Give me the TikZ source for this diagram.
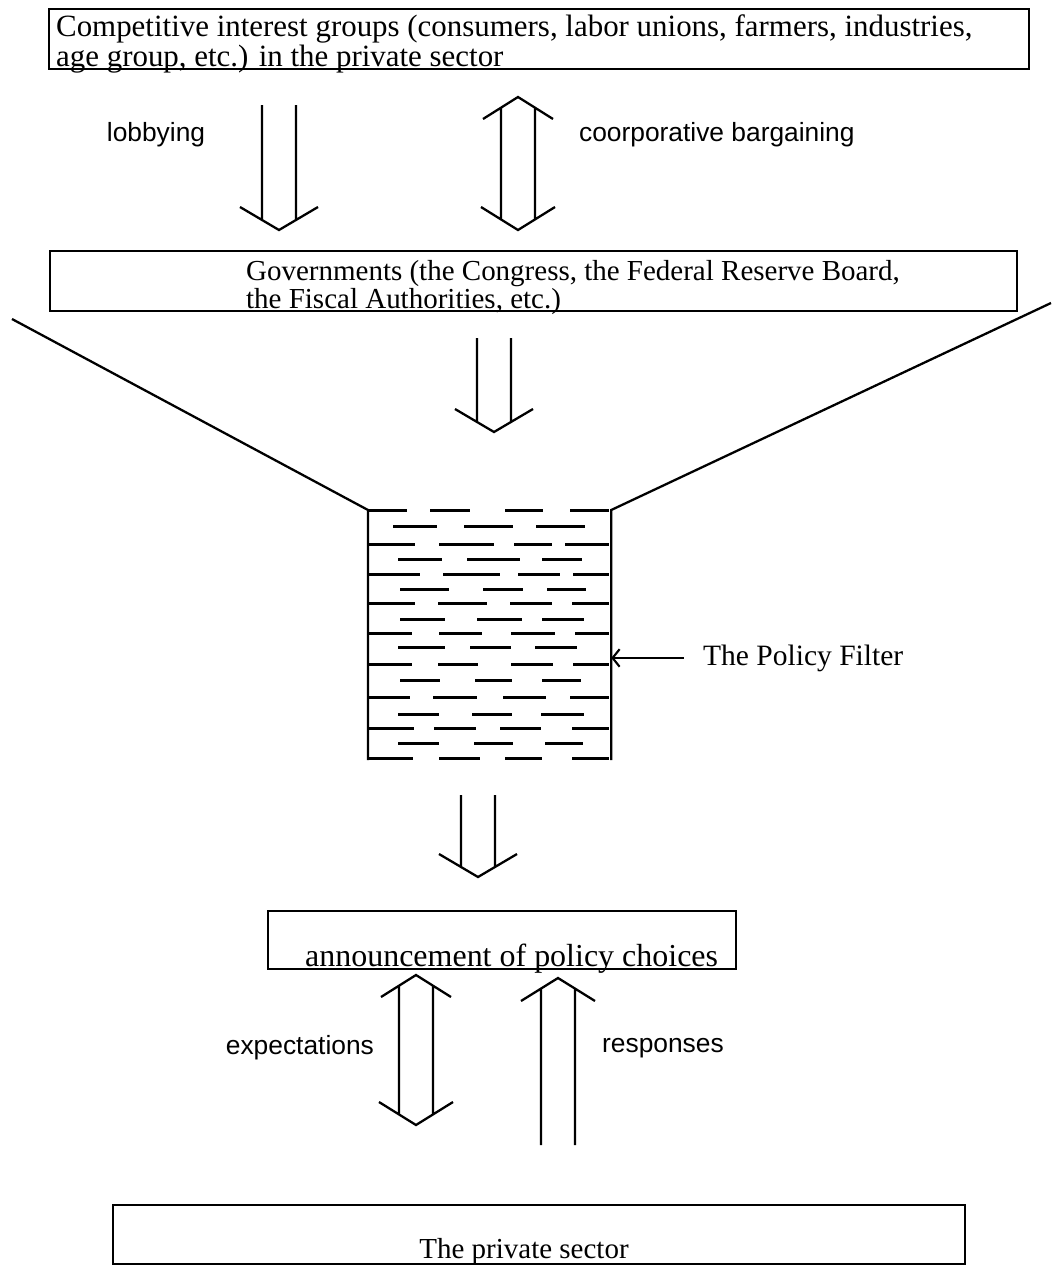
\documentclass[tikz,border=0pt]{standalone}
\usepackage{fontspec}
\setmainfont{Liberation Serif}
\setsansfont{Liberation Sans}
\usetikzlibrary{positioning,calc,arrows.meta}

\tikzset{
  frame/.style={draw, line width=1.2pt, inner sep=0pt, anchor=north west},
  boxtext/.style={align=left, inner sep=0pt, text depth=0pt, anchor=south west},
  flowlabel/.style={font=\sffamily\fontsize{15}{15}\selectfont, inner sep=0pt},
  filterdash/.style={line width=1.7pt},
  pointer/.style={line width=1.2pt, -{Straight Barb[length=4pt,width=10pt]}}
}

% hollow arrows: shafts plus open heads
\newcommand{\hollowdown}[2]{%
  \draw ($(#1)+(-17,0)$) -- ($(#2)+(-17,-10)$) ($(#1)+(17,0)$) -- ($(#2)+(17,-10)$)
        ($(#2)+(-39,-23)$) -- (#2) -- ($(#2)+(39,-23)$);}
\newcommand{\hollowup}[2]{%
  \draw ($(#1)+(-17,10)$) -- ($(#2)+(-17,0)$) ($(#1)+(17,10)$) -- ($(#2)+(17,0)$)
        ($(#1)+(-37,23)$) -- (#1) -- ($(#1)+(37,23)$);}
\newcommand{\hollowboth}[2]{%
  \draw ($(#1)+(-17,10)$) -- ($(#2)+(-17,-10)$) ($(#1)+(17,10)$) -- ($(#2)+(17,-10)$)
        ($(#1)+(-35,22)$) -- (#1) -- ($(#1)+(35,22)$)
        ($(#2)+(-37,-23)$) -- (#2) -- ($(#2)+(37,-23)$);}

\begin{document}
\begin{tikzpicture}[x=0.02cm, y=-0.02cm, line width=1.3pt]
\useasboundingbox (0,0) rectangle (1053,1268);

% boxes
\node[frame, minimum width=19.6cm, minimum height=1.2cm] (groups) at (48,8) {};
\node[boxtext, font=\fontsize{17.6}{17}\selectfont] (groupstext) at (55,68) {Competitive interest groups (consumers, labor unions, farmers, industries,\\age group, etc.) in the private sector};

\node[frame, minimum width=19.34cm, minimum height=1.2cm] (govs) at (49,250) {};
\node[boxtext, font=\fontsize{16.5}{16}\selectfont] (govstext) at (245,310) {Governments (the Congress, the Federal Reserve Board,\\the Fiscal Authorities, etc.)};

\node[frame, minimum width=9.36cm, minimum height=1.16cm] (announce) at (267,910) {};
\node[boxtext, font=\fontsize{18.2}{18}\selectfont] (announcetext) at (304,968) {announcement of policy choices};

\node[frame, minimum width=17.04cm, minimum height=1.18cm] (private) at (112,1204) {};
\node[boxtext, font=\fontsize{16.5}{16}\selectfont, anchor=south] (privatetext) at (524,1260) {The private sector};

% arrows between the boxes
\coordinate (lobT) at (279,105);
\coordinate (lobB) at (279,230);
\coordinate (barT) at (518,97);
\coordinate (barB) at (518,230);
\hollowdown{lobT}{lobB}
\hollowboth{barT}{barB}
\node[flowlabel] (lobbying) at (156,135) {lobbying};
\node[flowlabel, anchor=west] (bargaining) at (578,135) {coorporative bargaining};

\coordinate (govT) at (494,338);
\coordinate (govB) at (494,432);
\hollowdown{govT}{govB}

% the funnel and the filter
\node[minimum width=4.82cm, minimum height=4.96cm, inner sep=0pt, anchor=north west] (filter) at (368,510) {};
\coordinate (funnelL) at (12,319);
\coordinate (funnelR) at (1051,303);
\draw (funnelL) -- (filter.north west) -- (filter.south west);
\draw (funnelR) -- (filter.north east) -- (filter.south east);
\foreach \y/\a/\b/\c/\d/\e/\f in {510/407/430/470/505/543/570, 544/415/439/494/514/552/565,
    574/420/443/500/518/560/573, 603/415/438/487/510/552/572, 633/412/439/482/511/555/575,
    664/412/438/478/511/553/573, 697/410/433/477/503/546/570, 728/414/434/476/500/541/572,
    758/413/439/480/505/542/572}
  \draw[filterdash] (368,\y) -- (\a,\y) (\b,\y) -- (\c,\y) (\d,\y) -- (\e,\y) (\f,\y) -- (609,\y);
\foreach \y/\a/\b/\c/\d/\e/\f in {526/393/437/464/513/536/585, 559/398/442/467/520/542/582,
    589/400/449/483/523/547/586, 619/400/445/477/522/542/584, 647/398/445/470/511/535/577,
    680/400/440/475/512/542/581, 714/398/439/472/512/541/584, 743/398/439/474/513/545/583}
  \draw[filterdash] (\a,\y) -- (\b,\y) (\c,\y) -- (\d,\y) (\e,\y) -- (\f,\y);

\node[font=\fontsize{16.8}{16.8}\selectfont, inner sep=0pt, anchor=base west] (filterlabel) at (702,665) {The Policy Filter};
\draw[pointer] ([xshift=-10.5pt]filterlabel.west) -- (filterlabel.west -| filter.east);

\coordinate (filT) at (478,795);
\coordinate (filB) at (478,877);
\hollowdown{filT}{filB}

% expectations and responses
\coordinate (expT) at (416,975);
\coordinate (expB) at (416,1125);
\coordinate (resT) at (558,978);
\coordinate (resB) at (558,1145);
\hollowboth{expT}{expB}
\hollowup{resT}{resB}
\node[flowlabel, anchor=east] (expectations) at (375,1048) {expectations};
\node[flowlabel, anchor=west] (responses) at (601,1048) {responses};
\end{tikzpicture}
\end{document}
